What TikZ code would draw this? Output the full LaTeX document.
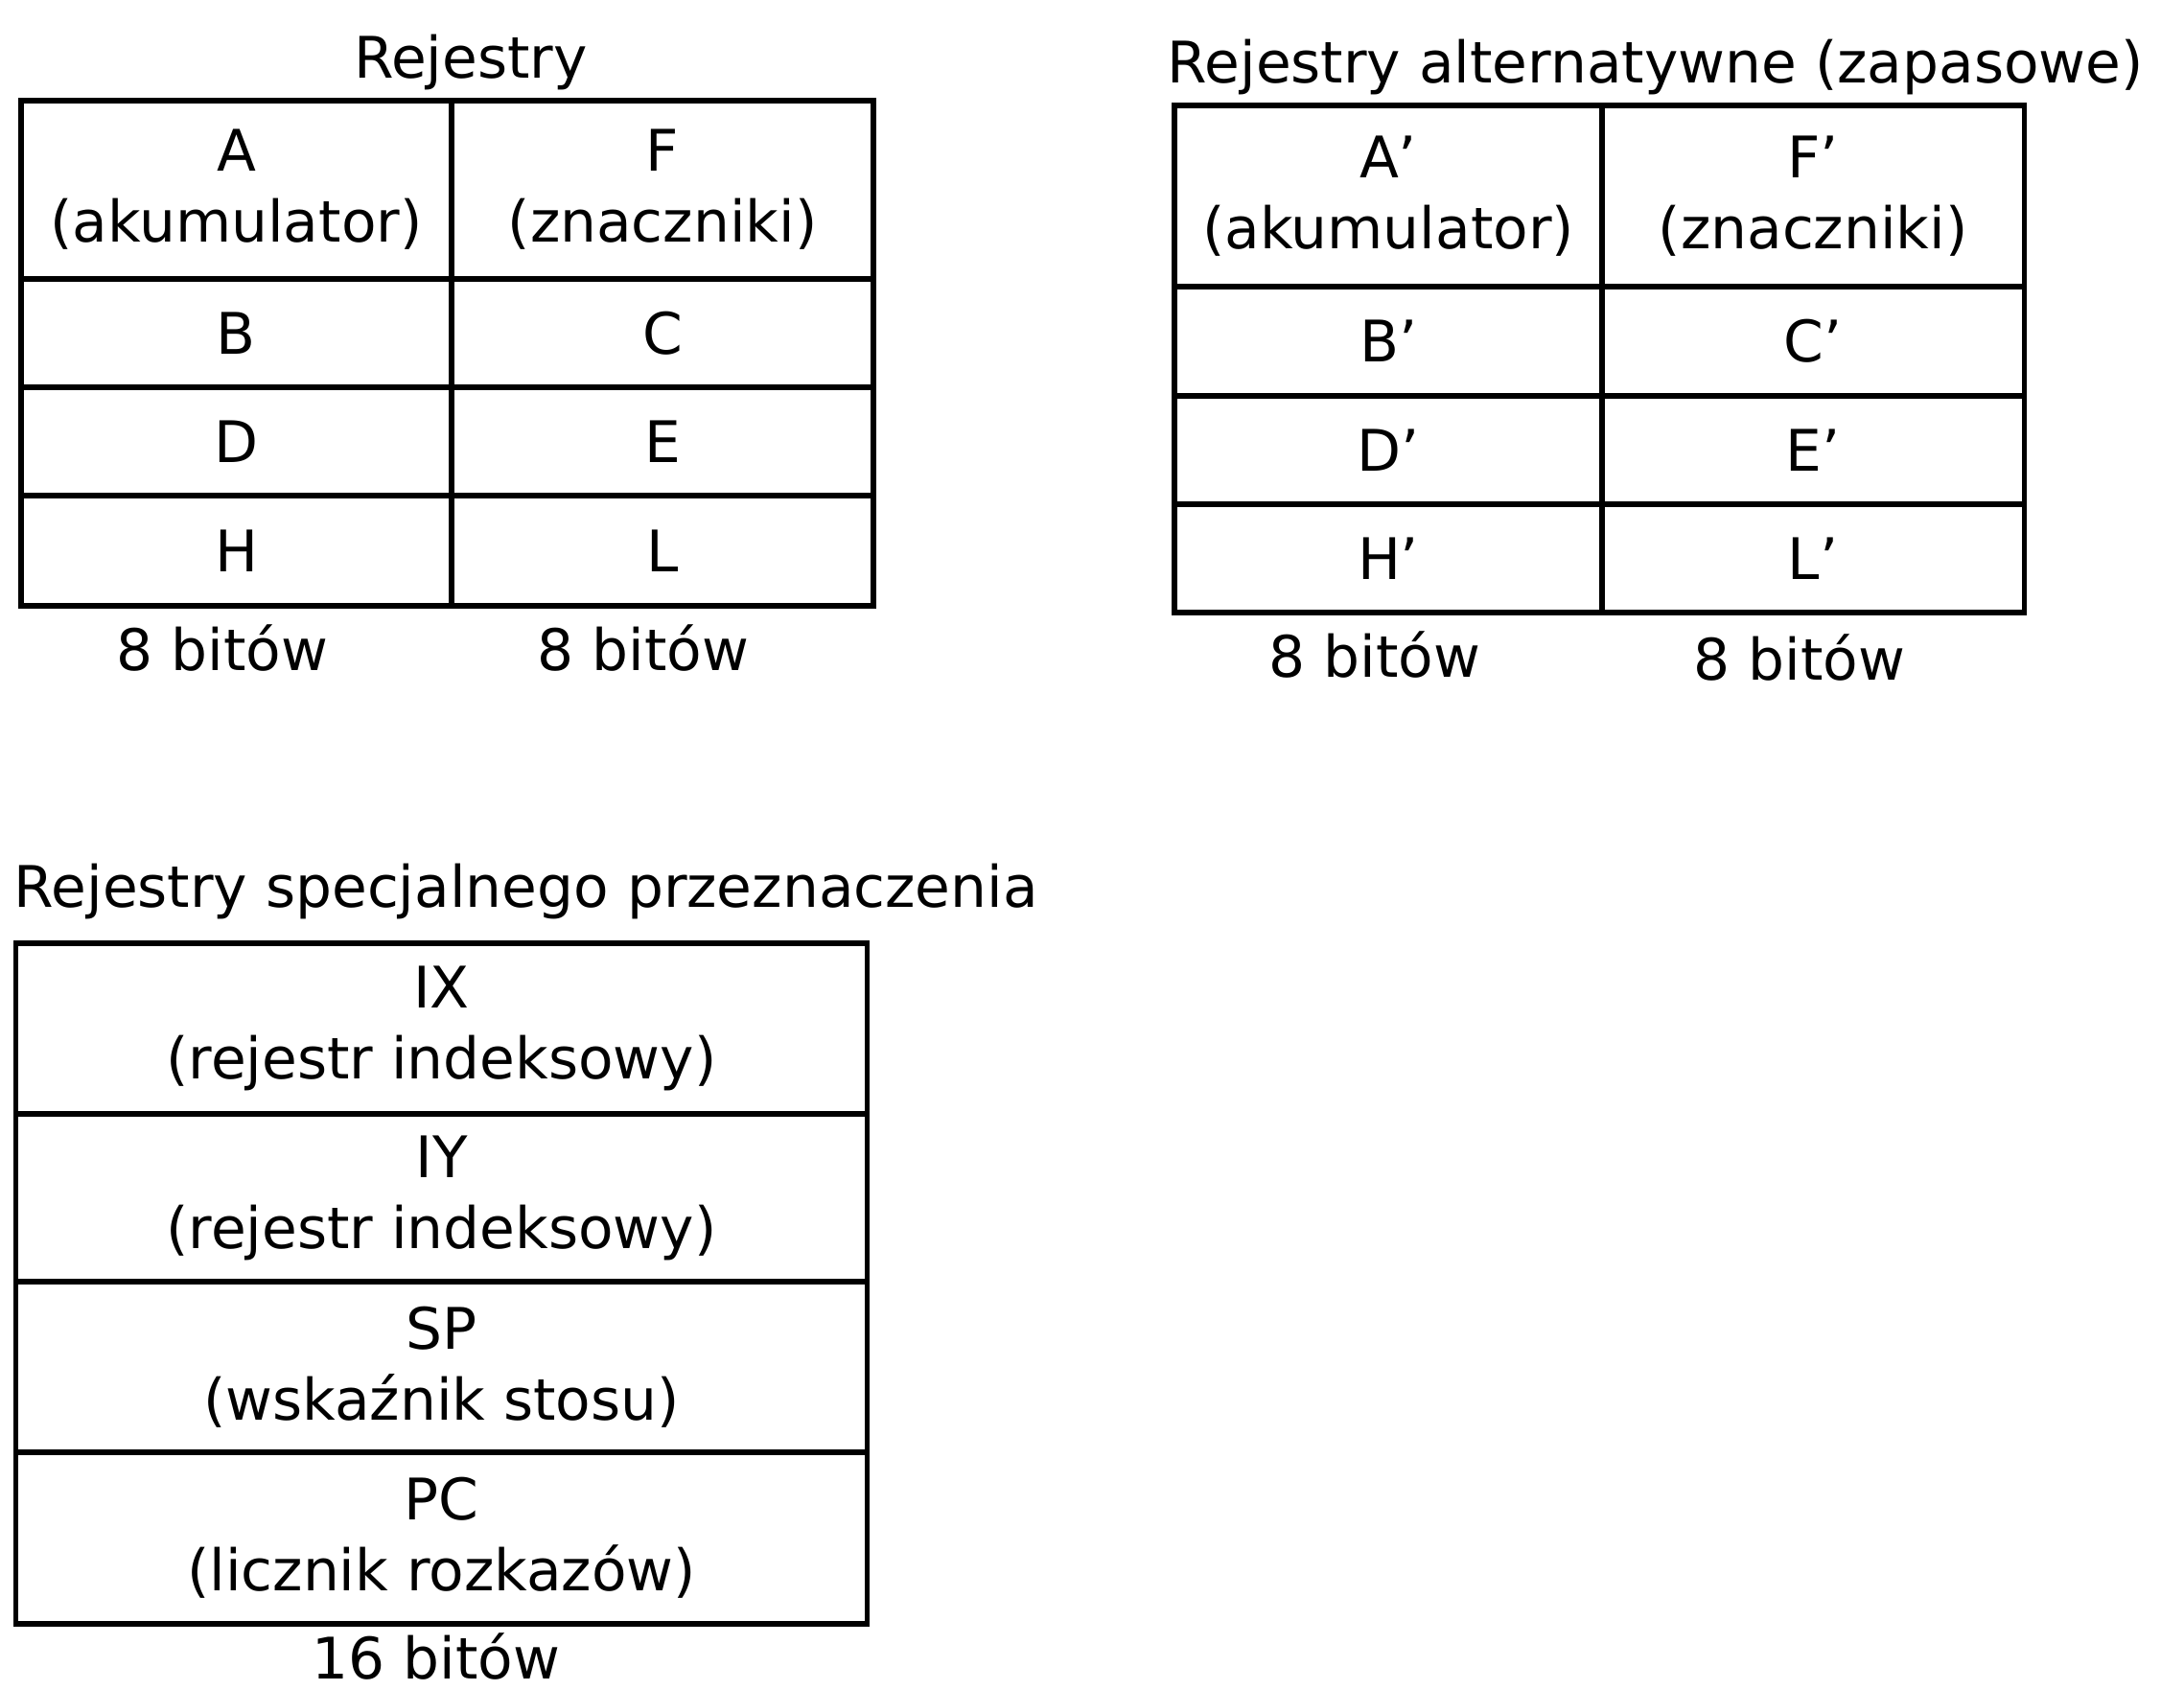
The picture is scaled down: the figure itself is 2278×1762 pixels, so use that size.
\documentclass[tikz,border=0pt]{standalone}
\usepackage{fontspec}
\setmainfont{DejaVu Sans}
\begin{document}
\begin{tikzpicture}[x=0.01cm,y=-0.01cm,
  cell/.style={draw, line width=1.5pt, rectangle, inner sep=0pt, outer sep=0pt, align=center,
    font=\fontsize{17}{21}\selectfont},
  lbl/.style={inner sep=0pt, font=\fontsize{17}{21}\selectfont}]
\useasboundingbox (0,0) rectangle (2278,1762);
% left table
\node[lbl] (t1) at (491,65) {Rejestry};
\node[cell, minimum width=4.49cm, minimum height=1.86cm] (A) at (246.5,198) {A\\(akumulator)};
\node[cell, minimum width=4.40cm, minimum height=1.86cm] (F) at (691,198) {F\\(znaczniki)};
\node[cell, minimum width=4.49cm, minimum height=1.13cm] (B) at (246.5,347.5) {B};
\node[cell, minimum width=4.40cm, minimum height=1.13cm] (C) at (691,347.5) {C};
\node[cell, minimum width=4.49cm, minimum height=1.13cm] (D) at (246.5,460.5) {D};
\node[cell, minimum width=4.40cm, minimum height=1.13cm] (E) at (691,460.5) {E};
\node[cell, minimum width=4.49cm, minimum height=1.15cm] (H) at (246.5,574.5) {H};
\node[cell, minimum width=4.40cm, minimum height=1.15cm] (L) at (691,574.5) {L};
\node[lbl] (b1) at (232,676) {8 bitów};
\node[lbl] (b2) at (671,676) {8 bitów};
% right table
\node[lbl, anchor=west] (t2) at (1217,70) {Rejestry alternatywne (zapasowe)};
\node[cell, minimum width=4.46cm, minimum height=1.89cm] (A2) at (1448,204.5) {A'\\(akumulator)};
\node[cell, minimum width=4.40cm, minimum height=1.89cm] (F2) at (1891,204.5) {F'\\(znaczniki)};
\node[cell, minimum width=4.46cm, minimum height=1.14cm] (B2) at (1448,356) {B'};
\node[cell, minimum width=4.40cm, minimum height=1.14cm] (C2) at (1891,356) {C'};
\node[cell, minimum width=4.46cm, minimum height=1.13cm] (D2) at (1448,469.5) {D'};
\node[cell, minimum width=4.40cm, minimum height=1.13cm] (E2) at (1891,469.5) {E'};
\node[cell, minimum width=4.46cm, minimum height=1.13cm] (H2) at (1448,582.5) {H'};
\node[cell, minimum width=4.40cm, minimum height=1.13cm] (L2) at (1891,582.5) {L'};
\node[lbl] (b3) at (1434,683) {8 bitów};
\node[lbl] (b4) at (1877,686) {8 bitów};
% special registers
\node[lbl, anchor=west] (t3) at (14,930) {Rejestry specjalnego przeznaczenia};
\node[cell, minimum width=8.87cm, minimum height=1.78cm] (IX) at (460.5,1073) {IX\\(rejestr indeksowy)};
\node[cell, minimum width=8.87cm, minimum height=1.75cm] (IY) at (460.5,1249.5) {IY\\(rejestr indeksowy)};
\node[cell, minimum width=8.87cm, minimum height=1.78cm] (SP) at (460.5,1426) {SP\\(wskaźnik stosu)};
\node[cell, minimum width=8.87cm, minimum height=1.79cm] (PC) at (460.5,1604.5) {PC\\(licznik rozkazów)};
\node[lbl] (b5) at (455,1728) {16 bitów};
\end{tikzpicture}
\end{document}
